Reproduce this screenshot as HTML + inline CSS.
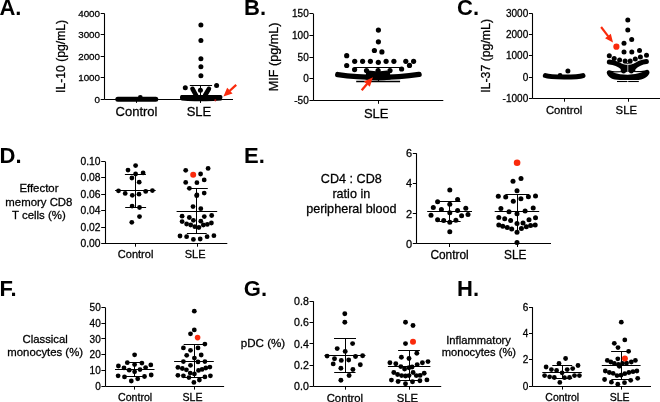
<!DOCTYPE html>
<html><head><meta charset="utf-8"><style>
html,body{margin:0;padding:0;background:#fff;}
body{width:660px;height:402px;overflow:hidden;}
svg{display:block;font-family:"Liberation Sans", sans-serif;will-change:transform;}
text{fill:#000;stroke:#000;stroke-width:0.28px;}
text[font-weight=bold]{stroke-width:0;}
</style></head><body>
<svg width="660" height="402" viewBox="0 0 660 402">
<rect width="660" height="402" fill="#fff"/>
<text x="-0.6" y="15.0" font-size="22" text-anchor="start" font-weight="bold" >A.</text>
<line x1="104.5" y1="13.4" x2="104.5" y2="99.4" stroke="#000" stroke-width="1.1" stroke-linecap="butt"/>
<line x1="100.7" y1="13.5" x2="104.5" y2="13.5" stroke="#000" stroke-width="1" stroke-linecap="butt"/>
<text transform="translate(100.00,16.91)" font-size="9.8" text-anchor="end" class="tk">4000</text>
<line x1="100.7" y1="34.5" x2="104.5" y2="34.5" stroke="#000" stroke-width="1" stroke-linecap="butt"/>
<text transform="translate(100.00,38.41)" font-size="9.8" text-anchor="end" class="tk">3000</text>
<line x1="100.7" y1="56.5" x2="104.5" y2="56.5" stroke="#000" stroke-width="1" stroke-linecap="butt"/>
<text transform="translate(100.00,59.81)" font-size="9.8" text-anchor="end" class="tk">2000</text>
<line x1="100.7" y1="77.5" x2="104.5" y2="77.5" stroke="#000" stroke-width="1" stroke-linecap="butt"/>
<text transform="translate(100.00,81.36)" font-size="9.8" text-anchor="end" class="tk">1000</text>
<line x1="100.7" y1="99.5" x2="104.5" y2="99.5" stroke="#000" stroke-width="1" stroke-linecap="butt"/>
<text transform="translate(100.00,102.91)" font-size="9.8" text-anchor="end" class="tk">0</text>
<line x1="104.5" y1="99.5" x2="233" y2="99.5" stroke="#000" stroke-width="1.1" stroke-linecap="butt"/>
<line x1="136.5" y1="99.4" x2="136.5" y2="102.7" stroke="#000" stroke-width="1" stroke-linecap="butt"/>
<line x1="200.5" y1="99.4" x2="200.5" y2="102.7" stroke="#000" stroke-width="1" stroke-linecap="butt"/>
<text transform="translate(65.0,56.4) rotate(-90)" x="0" y="0" font-size="12.2" text-anchor="middle" >IL-10 (pg/mL)</text>
<text x="136.5" y="116.4" font-size="13" text-anchor="middle" font-weight="normal" >Control</text>
<text x="199.0" y="116.4" font-size="13" text-anchor="middle" font-weight="normal" >SLE</text>
<line x1="117.8" y1="99.2" x2="155.8" y2="99.2" stroke="#000" stroke-width="5.0" stroke-linecap="round"/>
<circle cx="140.3" cy="97.5" r="2.4" fill="#000"/>
<line x1="136.5" y1="99" x2="136.5" y2="102.6" stroke="#000" stroke-width="1" stroke-linecap="butt"/>
<circle cx="200.9" cy="25" r="2.5" fill="#000"/>
<circle cx="200.9" cy="40.4" r="2.5" fill="#000"/>
<circle cx="200.9" cy="58.8" r="2.5" fill="#000"/>
<circle cx="200.9" cy="66.8" r="2.5" fill="#000"/>
<circle cx="200.9" cy="75.8" r="2.5" fill="#000"/>
<circle cx="185.3" cy="87.8" r="2.5" fill="#000"/>
<circle cx="216.6" cy="85.6" r="2.5" fill="#000"/>
<circle cx="200.4" cy="90.2" r="2.5" fill="#000"/>
<line x1="189.8" y1="85.5" x2="212.1" y2="85.5" stroke="#000" stroke-width="1" stroke-linecap="butt"/>
<line x1="200.5" y1="85.4" x2="200.5" y2="97" stroke="#000" stroke-width="1" stroke-linecap="butt"/>
<line x1="192.5" y1="88.8" x2="196.2" y2="95.5" stroke="#000" stroke-width="4.6" stroke-linecap="round"/>
<line x1="208.9" y1="88.8" x2="205.0" y2="95.5" stroke="#000" stroke-width="4.6" stroke-linecap="round"/>
<path d="M181.5,95.0 L220.5,95.0 Q222.8,95.3 222.4,97.8 L221.5,100.6 Q210,101.6 200.4,101.2 Q190,101.6 181.5,100.6 L180,98.4 Q179.8,95.3 181.5,95.0 Z" fill="#000"/>
<line x1="200.5" y1="99" x2="200.5" y2="102.8" stroke="#000" stroke-width="1" stroke-linecap="butt"/>
<circle cx="215.3" cy="100.3" r="1.1" fill="#b01818"/>
<line x1="236.2" y1="84.8" x2="229.50252296931353" y2="90.97423663766409" stroke="#fa2a0c" stroke-width="2.3" stroke-linecap="butt"/>
<path d="M223.40,96.60 L227.19,87.73 L232.55,93.54 Z" fill="#fa2a0c"/>
<text x="244.0" y="15.0" font-size="22" text-anchor="start" font-weight="bold" >B.</text>
<line x1="313.5" y1="13.6" x2="313.5" y2="100.5" stroke="#000" stroke-width="1.1" stroke-linecap="butt"/>
<line x1="309.4" y1="13.5" x2="313.2" y2="13.5" stroke="#000" stroke-width="1" stroke-linecap="butt"/>
<text transform="translate(308.70,17.18)" font-size="10" text-anchor="end" class="tk">150</text>
<line x1="309.4" y1="35.5" x2="313.2" y2="35.5" stroke="#000" stroke-width="1" stroke-linecap="butt"/>
<text transform="translate(308.70,38.88)" font-size="10" text-anchor="end" class="tk">100</text>
<line x1="309.4" y1="57.5" x2="313.2" y2="57.5" stroke="#000" stroke-width="1" stroke-linecap="butt"/>
<text transform="translate(308.70,60.58)" font-size="10" text-anchor="end" class="tk">50</text>
<line x1="309.4" y1="78.5" x2="313.2" y2="78.5" stroke="#000" stroke-width="1" stroke-linecap="butt"/>
<text transform="translate(308.70,82.38)" font-size="10" text-anchor="end" class="tk">0</text>
<line x1="309.4" y1="100.5" x2="313.2" y2="100.5" stroke="#000" stroke-width="1" stroke-linecap="butt"/>
<text transform="translate(308.70,104.08)" font-size="10" text-anchor="end" class="tk">-50</text>
<line x1="313.2" y1="100.5" x2="443.3" y2="100.5" stroke="#000" stroke-width="1.1" stroke-linecap="butt"/>
<line x1="378.5" y1="100.5" x2="378.5" y2="103.8" stroke="#000" stroke-width="1" stroke-linecap="butt"/>
<text transform="translate(277.8,56.9) rotate(-90)" x="0" y="0" font-size="12.6" text-anchor="middle" >MIF (pg/mL)</text>
<text x="376.2" y="117.8" font-size="13" text-anchor="middle" font-weight="normal" >SLE</text>
<circle cx="378.4" cy="30.1" r="2.6" fill="#000"/>
<circle cx="378.4" cy="41.8" r="2.6" fill="#000"/>
<circle cx="374.4" cy="50.5" r="2.6" fill="#000"/>
<circle cx="381.9" cy="51.9" r="2.6" fill="#000"/>
<circle cx="346.7" cy="55.7" r="2.6" fill="#000"/>
<circle cx="354.7" cy="61.3" r="2.6" fill="#000"/>
<circle cx="362.6" cy="61.3" r="2.6" fill="#000"/>
<circle cx="370.4" cy="61.3" r="2.6" fill="#000"/>
<circle cx="378.3" cy="62.3" r="2.6" fill="#000"/>
<circle cx="386.1" cy="61.3" r="2.6" fill="#000"/>
<circle cx="393.9" cy="61.3" r="2.6" fill="#000"/>
<circle cx="405.8" cy="61.3" r="2.6" fill="#000"/>
<circle cx="413.6" cy="61.3" r="2.6" fill="#000"/>
<circle cx="346.7" cy="65.5" r="2.6" fill="#000"/>
<circle cx="409.5" cy="65.4" r="2.6" fill="#000"/>
<circle cx="354.6" cy="69.6" r="2.6" fill="#000"/>
<circle cx="366.5" cy="70.6" r="2.6" fill="#000"/>
<circle cx="378.1" cy="70.6" r="2.6" fill="#000"/>
<circle cx="390.0" cy="70.6" r="2.6" fill="#000"/>
<circle cx="401.6" cy="69.0" r="2.6" fill="#000"/>
<line x1="354.7" y1="67.5" x2="401.8" y2="67.5" stroke="#000" stroke-width="1.1" stroke-linecap="butt"/>
<line x1="356.2" y1="81.5" x2="400.1" y2="81.5" stroke="#000" stroke-width="1.3" stroke-linecap="butt"/>
<line x1="378.5" y1="67.7" x2="378.5" y2="81.2" stroke="#000" stroke-width="1" stroke-linecap="butt"/>
<path d="M337.8,74.6 C350,76.4 365,77.3 378,77.3 C392,77.3 405,76.5 419.0,74.4" stroke="#000" stroke-width="5.5" fill="none" stroke-linecap="round" stroke-linejoin="round"/>
<path d="M366,73 L369,70.6 L376,71.2 L378,70.4 L380,71.2 L387,70.6 L390,73 L390.5,79.5 Q378,81.6 365.5,79.5 Z" fill="#000"/>
<line x1="361.7" y1="90.2" x2="367.2214314770318" y2="83.79119560701662" stroke="#fa2a0c" stroke-width="2.3" stroke-linecap="butt"/>
<path d="M372.90,77.20 L369.85,86.72 L363.94,81.62 Z" fill="#fa2a0c"/>
<text x="457.0" y="15.0" font-size="22" text-anchor="start" font-weight="bold" >C.</text>
<line x1="532.5" y1="13.6" x2="532.5" y2="98.4" stroke="#000" stroke-width="1.1" stroke-linecap="butt"/>
<line x1="528.9000000000001" y1="13.5" x2="532.7" y2="13.5" stroke="#000" stroke-width="1" stroke-linecap="butt"/>
<text transform="translate(528.20,17.18)" font-size="10" text-anchor="end" class="tk">3000</text>
<line x1="528.9000000000001" y1="34.5" x2="532.7" y2="34.5" stroke="#000" stroke-width="1" stroke-linecap="butt"/>
<text transform="translate(528.20,38.33)" font-size="10" text-anchor="end" class="tk">2000</text>
<line x1="528.9000000000001" y1="55.5" x2="532.7" y2="55.5" stroke="#000" stroke-width="1" stroke-linecap="butt"/>
<text transform="translate(528.20,59.48)" font-size="10" text-anchor="end" class="tk">1000</text>
<line x1="528.9000000000001" y1="77.5" x2="532.7" y2="77.5" stroke="#000" stroke-width="1" stroke-linecap="butt"/>
<text transform="translate(528.20,80.63)" font-size="10" text-anchor="end" class="tk">0</text>
<line x1="528.9000000000001" y1="98.5" x2="532.7" y2="98.5" stroke="#000" stroke-width="1" stroke-linecap="butt"/>
<text transform="translate(528.20,101.78)" font-size="10" text-anchor="end" class="tk">-1000</text>
<line x1="532.7" y1="98.5" x2="661" y2="98.5" stroke="#000" stroke-width="1.1" stroke-linecap="butt"/>
<line x1="564.5" y1="98.4" x2="564.5" y2="101.7" stroke="#000" stroke-width="1" stroke-linecap="butt"/>
<line x1="628.5" y1="98.4" x2="628.5" y2="101.7" stroke="#000" stroke-width="1" stroke-linecap="butt"/>
<text transform="translate(489.8,55.9) rotate(-90)" x="0" y="0" font-size="12.3" text-anchor="middle" >IL-37 (pg/mL)</text>
<text x="564.1" y="113.6" font-size="11.3" text-anchor="middle" font-weight="normal" >Control</text>
<text x="626.3" y="113.6" font-size="11.3" text-anchor="middle" font-weight="normal" >SLE</text>
<path d="M545.3,75.6 C550,77.5 578,77.5 583,75.6" stroke="#000" stroke-width="4.9" fill="none" stroke-linecap="round" stroke-linejoin="round"/>
<circle cx="560.1" cy="75.4" r="2.4" fill="#000"/>
<circle cx="567.9" cy="71.0" r="2.5" fill="#000"/>
<circle cx="627.8" cy="19.9" r="2.5" fill="#000"/>
<circle cx="627.8" cy="29.9" r="2.5" fill="#000"/>
<circle cx="631.7" cy="39.4" r="2.5" fill="#000"/>
<circle cx="624.0" cy="43.3" r="2.5" fill="#000"/>
<circle cx="624" cy="52" r="2.5" fill="#000"/>
<circle cx="631.8" cy="52" r="2.5" fill="#000"/>
<circle cx="639.5" cy="50.5" r="2.5" fill="#000"/>
<circle cx="609.3" cy="55.7" r="2.5" fill="#000"/>
<circle cx="646.5" cy="55.3" r="2.5" fill="#000"/>
<circle cx="614.2" cy="58.5" r="2.5" fill="#000"/>
<circle cx="619.6" cy="60" r="2.5" fill="#000"/>
<circle cx="625.1" cy="61.1" r="2.5" fill="#000"/>
<circle cx="630.2" cy="61.1" r="2.5" fill="#000"/>
<circle cx="635.3" cy="58.9" r="2.5" fill="#000"/>
<circle cx="640.4" cy="57.1" r="2.5" fill="#000"/>
<circle cx="616.4" cy="46.7" r="3.1" fill="#fa2a0c"/>
<line x1="601.1" y1="27.0" x2="608.2500451669471" y2="36.31308404098152" stroke="#fa2a0c" stroke-width="2.1" stroke-linecap="butt"/>
<path d="M613.00,42.50 L605.05,38.14 L610.84,33.69 Z" fill="#fa2a0c"/>
<path d="M609.3,62.0 Q617,62.6 623,67.6" stroke="#000" stroke-width="5" fill="none" stroke-linecap="round" stroke-linejoin="round"/>
<path d="M646.4,61.6 Q639,62.4 633.5,67.6" stroke="#000" stroke-width="5" fill="none" stroke-linecap="round" stroke-linejoin="round"/>
<path d="M620.7,63.2 L635.3,63.2 L635.3,71.5 L620.7,71.5 Z" fill="#000"/>
<path d="M609.5,70.2 Q612,71 615,71.2 L641,71 Q645,70.6 647,69.8 A2.6,2.6 0 0 1 649.4,73.2 C647.5,77 644,79.9 636,80 L620,80 C612,79.9 608.6,77.2 607.1,74 A2.5,2.5 0 0 1 609.5,70.2 Z" fill="#000"/>
<path d="M612.7,72.4 Q627.8,71.8 642.6,72.3 Q627.8,77.2 612.7,72.4 Z" fill="#fff"/>
<circle cx="623.6" cy="71.2" r="2.4" fill="#000"/>
<circle cx="631.3" cy="71.2" r="2.4" fill="#000"/>
<line x1="617.0" y1="81.5" x2="627.4" y2="81.5" stroke="#000" stroke-width="1.1" stroke-linecap="butt"/>
<line x1="628.2" y1="81.5" x2="638.8" y2="81.5" stroke="#000" stroke-width="1.1" stroke-linecap="butt"/>
<path d="M621.5,63.0 Q627.8,66.2 634,63.0" stroke="#fff" stroke-width="0.9" fill="none" stroke-linecap="round" stroke-linejoin="round"/>
<line x1="627.8" y1="64.5" x2="627.8" y2="74.3" stroke="#fff" stroke-width="0.7" stroke-linecap="butt"/>
<text x="-0.4" y="163.0" font-size="22" text-anchor="start" font-weight="bold" >D.</text>
<line x1="105.5" y1="161.4" x2="105.5" y2="243.4" stroke="#000" stroke-width="1.1" stroke-linecap="butt"/>
<line x1="101.2" y1="161.5" x2="105.0" y2="161.5" stroke="#000" stroke-width="1" stroke-linecap="butt"/>
<text transform="translate(100.50,165.09)" font-size="10.3" text-anchor="end" class="tk">0.10</text>
<line x1="101.2" y1="177.5" x2="105.0" y2="177.5" stroke="#000" stroke-width="1" stroke-linecap="butt"/>
<text transform="translate(100.50,181.49)" font-size="10.3" text-anchor="end" class="tk">0.08</text>
<line x1="101.2" y1="194.5" x2="105.0" y2="194.5" stroke="#000" stroke-width="1" stroke-linecap="butt"/>
<text transform="translate(100.50,197.89)" font-size="10.3" text-anchor="end" class="tk">0.06</text>
<line x1="101.2" y1="210.5" x2="105.0" y2="210.5" stroke="#000" stroke-width="1" stroke-linecap="butt"/>
<text transform="translate(100.50,214.29)" font-size="10.3" text-anchor="end" class="tk">0.04</text>
<line x1="101.2" y1="227.5" x2="105.0" y2="227.5" stroke="#000" stroke-width="1" stroke-linecap="butt"/>
<text transform="translate(100.50,230.69)" font-size="10.3" text-anchor="end" class="tk">0.02</text>
<line x1="101.2" y1="243.5" x2="105.0" y2="243.5" stroke="#000" stroke-width="1" stroke-linecap="butt"/>
<text transform="translate(100.50,247.09)" font-size="10.3" text-anchor="end" class="tk">0.00</text>
<line x1="105.0" y1="243.5" x2="227.3" y2="243.5" stroke="#000" stroke-width="1.1" stroke-linecap="butt"/>
<line x1="135.5" y1="243.4" x2="135.5" y2="246.70000000000002" stroke="#000" stroke-width="1" stroke-linecap="butt"/>
<line x1="197.5" y1="243.4" x2="197.5" y2="246.70000000000002" stroke="#000" stroke-width="1" stroke-linecap="butt"/>
<text x="38.9" y="191.8" font-size="11.4" text-anchor="middle" font-weight="normal" >Effector</text>
<text x="38.9" y="205.5" font-size="11.4" text-anchor="middle" font-weight="normal" >memory CD8</text>
<text x="38.9" y="219.2" font-size="11.4" text-anchor="middle" font-weight="normal" >T cells (%)</text>
<text x="135.6" y="257.9" font-size="11.0" text-anchor="middle" font-weight="normal" >Control</text>
<text x="195.1" y="257.9" font-size="11.0" text-anchor="middle" font-weight="normal" >SLE</text>
<line x1="115.1" y1="190.5" x2="155.7" y2="190.5" stroke="#000" stroke-width="1" stroke-linecap="butt"/>
<line x1="124.9" y1="174.5" x2="145.9" y2="174.5" stroke="#000" stroke-width="1" stroke-linecap="butt"/>
<line x1="125.2" y1="207.5" x2="146.1" y2="207.5" stroke="#000" stroke-width="1" stroke-linecap="butt"/>
<line x1="135.5" y1="174.3" x2="135.5" y2="207.4" stroke="#000" stroke-width="1" stroke-linecap="butt"/>
<circle cx="135.6" cy="165.6" r="2.4" fill="#000"/>
<circle cx="128" cy="170.1" r="2.4" fill="#000"/>
<circle cx="135.6" cy="174" r="2.4" fill="#000"/>
<circle cx="143.1" cy="172.9" r="2.4" fill="#000"/>
<circle cx="131.9" cy="178" r="2.4" fill="#000"/>
<circle cx="139.2" cy="182.2" r="2.4" fill="#000"/>
<circle cx="118.5" cy="190.8" r="2.4" fill="#000"/>
<circle cx="125.2" cy="193.4" r="2.4" fill="#000"/>
<circle cx="132.3" cy="195.3" r="2.4" fill="#000"/>
<circle cx="139" cy="194.2" r="2.4" fill="#000"/>
<circle cx="145.7" cy="191.4" r="2.4" fill="#000"/>
<circle cx="152.4" cy="190.6" r="2.4" fill="#000"/>
<circle cx="132.1" cy="206.1" r="2.4" fill="#000"/>
<circle cx="139.5" cy="207.5" r="2.4" fill="#000"/>
<circle cx="139.5" cy="216.6" r="2.4" fill="#000"/>
<circle cx="131.8" cy="222.3" r="2.4" fill="#000"/>
<line x1="186.8" y1="188.5" x2="207.8" y2="188.5" stroke="#000" stroke-width="1" stroke-linecap="butt"/>
<line x1="176.6" y1="211.5" x2="217.2" y2="211.5" stroke="#000" stroke-width="1" stroke-linecap="butt"/>
<line x1="186.9" y1="233.5" x2="206.7" y2="233.5" stroke="#000" stroke-width="1" stroke-linecap="butt"/>
<line x1="196.5" y1="188.3" x2="196.5" y2="233.3" stroke="#000" stroke-width="1" stroke-linecap="butt"/>
<circle cx="185.7" cy="170.3" r="2.4" fill="#000"/>
<circle cx="200.6" cy="174" r="2.4" fill="#000"/>
<circle cx="208.1" cy="168.4" r="2.4" fill="#000"/>
<circle cx="204.2" cy="179.9" r="2.4" fill="#000"/>
<circle cx="185.7" cy="182.4" r="2.4" fill="#000"/>
<circle cx="196.9" cy="182.7" r="2.4" fill="#000"/>
<circle cx="189.4" cy="188.3" r="2.4" fill="#000"/>
<circle cx="196.9" cy="194.9" r="2.4" fill="#000"/>
<circle cx="204.2" cy="193.1" r="2.4" fill="#000"/>
<circle cx="196.7" cy="195.7" r="2.4" fill="#000"/>
<circle cx="193" cy="206.6" r="2.4" fill="#000"/>
<circle cx="200.8" cy="208.7" r="2.4" fill="#000"/>
<circle cx="182.1" cy="216.2" r="2.4" fill="#000"/>
<circle cx="189.3" cy="217.5" r="2.4" fill="#000"/>
<circle cx="204.3" cy="216.6" r="2.4" fill="#000"/>
<circle cx="211.7" cy="215.5" r="2.4" fill="#000"/>
<circle cx="193.4" cy="220.3" r="2.4" fill="#000"/>
<circle cx="200.8" cy="221.2" r="2.4" fill="#000"/>
<circle cx="182.1" cy="221.6" r="2.4" fill="#000"/>
<circle cx="186.6" cy="224" r="2.4" fill="#000"/>
<circle cx="190.7" cy="225" r="2.4" fill="#000"/>
<circle cx="194.8" cy="226.7" r="2.4" fill="#000"/>
<circle cx="198.9" cy="227.5" r="2.4" fill="#000"/>
<circle cx="203.3" cy="225" r="2.4" fill="#000"/>
<circle cx="207.3" cy="224.4" r="2.4" fill="#000"/>
<circle cx="211.4" cy="223" r="2.4" fill="#000"/>
<circle cx="180" cy="236" r="2.4" fill="#000"/>
<circle cx="186.6" cy="236.7" r="2.4" fill="#000"/>
<circle cx="193.4" cy="239.4" r="2.4" fill="#000"/>
<circle cx="200.2" cy="239" r="2.4" fill="#000"/>
<circle cx="207.1" cy="236.7" r="2.4" fill="#000"/>
<circle cx="213.9" cy="235.7" r="2.4" fill="#000"/>
<circle cx="193.2" cy="174.8" r="3.0" fill="#fa2a0c"/>
<text x="244.0" y="163.1" font-size="22" text-anchor="start" font-weight="bold" >E.</text>
<line x1="416.5" y1="153.3" x2="416.5" y2="243.7" stroke="#000" stroke-width="1.1" stroke-linecap="butt"/>
<line x1="412.8" y1="153.5" x2="416.6" y2="153.5" stroke="#000" stroke-width="1" stroke-linecap="butt"/>
<text transform="translate(412.10,157.24)" font-size="11" text-anchor="end" class="tk">6</text>
<line x1="412.8" y1="183.5" x2="416.6" y2="183.5" stroke="#000" stroke-width="1" stroke-linecap="butt"/>
<text transform="translate(412.10,187.44)" font-size="11" text-anchor="end" class="tk">4</text>
<line x1="412.8" y1="213.5" x2="416.6" y2="213.5" stroke="#000" stroke-width="1" stroke-linecap="butt"/>
<text transform="translate(412.10,217.54)" font-size="11" text-anchor="end" class="tk">2</text>
<line x1="412.8" y1="243.5" x2="416.6" y2="243.5" stroke="#000" stroke-width="1" stroke-linecap="butt"/>
<text transform="translate(412.10,247.64)" font-size="11" text-anchor="end" class="tk">0</text>
<line x1="416.6" y1="243.5" x2="551" y2="243.5" stroke="#000" stroke-width="1.1" stroke-linecap="butt"/>
<line x1="449.5" y1="243.7" x2="449.5" y2="247.0" stroke="#000" stroke-width="1" stroke-linecap="butt"/>
<line x1="517.5" y1="243.7" x2="517.5" y2="247.0" stroke="#000" stroke-width="1" stroke-linecap="butt"/>
<text x="351.3" y="182.9" font-size="12.6" text-anchor="middle" font-weight="normal" >CD4 : CD8</text>
<text x="351.3" y="198.1" font-size="12.6" text-anchor="middle" font-weight="normal" >ratio in</text>
<text x="351.3" y="212.5" font-size="12.6" text-anchor="middle" font-weight="normal" >peripheral blood</text>
<text x="449.6" y="259.4" font-size="11.9" text-anchor="middle" font-weight="normal" >Control</text>
<text x="515.3" y="259.4" font-size="11.9" text-anchor="middle" font-weight="normal" >SLE</text>
<line x1="438.5" y1="201.5" x2="460.6" y2="201.5" stroke="#000" stroke-width="1" stroke-linecap="butt"/>
<line x1="427.2" y1="211.5" x2="472" y2="211.5" stroke="#000" stroke-width="1" stroke-linecap="butt"/>
<line x1="439.3" y1="221.5" x2="460.6" y2="221.5" stroke="#000" stroke-width="1" stroke-linecap="butt"/>
<line x1="449.5" y1="201.7" x2="449.5" y2="221.7" stroke="#000" stroke-width="1" stroke-linecap="butt"/>
<circle cx="449.8" cy="189.9" r="2.5" fill="#000"/>
<circle cx="457.6" cy="199.5" r="2.5" fill="#000"/>
<circle cx="437.6" cy="201.7" r="2.5" fill="#000"/>
<circle cx="449.8" cy="204.3" r="2.5" fill="#000"/>
<circle cx="433.3" cy="207.5" r="2.5" fill="#000"/>
<circle cx="441.4" cy="209.6" r="2.5" fill="#000"/>
<circle cx="457.6" cy="210.4" r="2.5" fill="#000"/>
<circle cx="465.8" cy="208.2" r="2.5" fill="#000"/>
<circle cx="449.8" cy="212.7" r="2.5" fill="#000"/>
<circle cx="431" cy="215.3" r="2.5" fill="#000"/>
<circle cx="461.6" cy="215.7" r="2.5" fill="#000"/>
<circle cx="468" cy="214.4" r="2.5" fill="#000"/>
<circle cx="437.6" cy="219.7" r="2.5" fill="#000"/>
<circle cx="443.7" cy="220.5" r="2.5" fill="#000"/>
<circle cx="455.9" cy="220.3" r="2.5" fill="#000"/>
<circle cx="449.8" cy="222.3" r="2.5" fill="#000"/>
<circle cx="449.8" cy="231.8" r="2.5" fill="#000"/>
<line x1="505.5" y1="194.5" x2="529" y2="194.5" stroke="#000" stroke-width="1" stroke-linecap="butt"/>
<line x1="494.7" y1="211.5" x2="539.2" y2="211.5" stroke="#000" stroke-width="1" stroke-linecap="butt"/>
<line x1="517.5" y1="194" x2="517.5" y2="232" stroke="#000" stroke-width="1" stroke-linecap="butt"/>
<circle cx="521" cy="178.4" r="2.5" fill="#000"/>
<circle cx="513" cy="181.3" r="2.5" fill="#000"/>
<circle cx="517" cy="190.7" r="2.5" fill="#000"/>
<circle cx="498.3" cy="196.3" r="2.5" fill="#000"/>
<circle cx="505.7" cy="197.1" r="2.5" fill="#000"/>
<circle cx="528.4" cy="196.7" r="2.5" fill="#000"/>
<circle cx="535.5" cy="196" r="2.5" fill="#000"/>
<circle cx="520.9" cy="198.8" r="2.5" fill="#000"/>
<circle cx="513.3" cy="201.2" r="2.5" fill="#000"/>
<circle cx="500.9" cy="208.5" r="2.5" fill="#000"/>
<circle cx="533.2" cy="208.1" r="2.5" fill="#000"/>
<circle cx="509" cy="211.7" r="2.5" fill="#000"/>
<circle cx="525.1" cy="210.9" r="2.5" fill="#000"/>
<circle cx="517" cy="213.8" r="2.5" fill="#000"/>
<circle cx="498.8" cy="217.4" r="2.5" fill="#000"/>
<circle cx="504.7" cy="218.7" r="2.5" fill="#000"/>
<circle cx="510.6" cy="220.6" r="2.5" fill="#000"/>
<circle cx="529" cy="219.8" r="2.5" fill="#000"/>
<circle cx="535.5" cy="217.8" r="2.5" fill="#000"/>
<circle cx="517" cy="223.5" r="2.5" fill="#000"/>
<circle cx="523" cy="223" r="2.5" fill="#000"/>
<circle cx="498.8" cy="225.1" r="2.5" fill="#000"/>
<circle cx="502.8" cy="226.3" r="2.5" fill="#000"/>
<circle cx="507.3" cy="227.4" r="2.5" fill="#000"/>
<circle cx="511.7" cy="229" r="2.5" fill="#000"/>
<circle cx="521.4" cy="228.4" r="2.5" fill="#000"/>
<circle cx="526.3" cy="226.7" r="2.5" fill="#000"/>
<circle cx="530.6" cy="225.5" r="2.5" fill="#000"/>
<circle cx="535.2" cy="225.1" r="2.5" fill="#000"/>
<circle cx="517" cy="232.2" r="2.5" fill="#000"/>
<circle cx="517" cy="242.6" r="2.5" fill="#000"/>
<circle cx="517.1" cy="162.8" r="3.3" fill="#fa2a0c"/>
<text x="-0.4" y="296.3" font-size="22" text-anchor="start" font-weight="bold" >F.</text>
<line x1="105.5" y1="307.4" x2="105.5" y2="386.2" stroke="#000" stroke-width="1.1" stroke-linecap="butt"/>
<line x1="101.4" y1="307.5" x2="105.2" y2="307.5" stroke="#000" stroke-width="1" stroke-linecap="butt"/>
<text transform="translate(100.70,310.98)" font-size="10" text-anchor="end" class="tk">50</text>
<line x1="101.4" y1="323.5" x2="105.2" y2="323.5" stroke="#000" stroke-width="1" stroke-linecap="butt"/>
<text transform="translate(100.70,326.74)" font-size="10" text-anchor="end" class="tk">40</text>
<line x1="101.4" y1="338.5" x2="105.2" y2="338.5" stroke="#000" stroke-width="1" stroke-linecap="butt"/>
<text transform="translate(100.70,342.50)" font-size="10" text-anchor="end" class="tk">30</text>
<line x1="101.4" y1="354.5" x2="105.2" y2="354.5" stroke="#000" stroke-width="1" stroke-linecap="butt"/>
<text transform="translate(100.70,358.26)" font-size="10" text-anchor="end" class="tk">20</text>
<line x1="101.4" y1="370.5" x2="105.2" y2="370.5" stroke="#000" stroke-width="1" stroke-linecap="butt"/>
<text transform="translate(100.70,374.02)" font-size="10" text-anchor="end" class="tk">10</text>
<line x1="101.4" y1="386.5" x2="105.2" y2="386.5" stroke="#000" stroke-width="1" stroke-linecap="butt"/>
<text transform="translate(100.70,389.78)" font-size="10" text-anchor="end" class="tk">0</text>
<line x1="105.2" y1="386.5" x2="224.1" y2="386.5" stroke="#000" stroke-width="1.1" stroke-linecap="butt"/>
<line x1="134.5" y1="386.3" x2="134.5" y2="389.6" stroke="#000" stroke-width="1" stroke-linecap="butt"/>
<line x1="194.5" y1="386.3" x2="194.5" y2="389.6" stroke="#000" stroke-width="1" stroke-linecap="butt"/>
<text x="45.2" y="343.4" font-size="11.3" text-anchor="middle" font-weight="normal" >Classical</text>
<text x="45.2" y="356.4" font-size="11.35" text-anchor="middle" font-weight="normal" >monocytes (%)</text>
<text x="135.1" y="400.7" font-size="10.6" text-anchor="middle" font-weight="normal" >Control</text>
<text x="192.5" y="400.7" font-size="10.6" text-anchor="middle" font-weight="normal" >SLE</text>
<line x1="126.8" y1="362.5" x2="142.4" y2="362.5" stroke="#000" stroke-width="1" stroke-linecap="butt"/>
<line x1="115" y1="369.5" x2="154.5" y2="369.5" stroke="#000" stroke-width="1" stroke-linecap="butt"/>
<line x1="124.5" y1="376.5" x2="144.7" y2="376.5" stroke="#000" stroke-width="1" stroke-linecap="butt"/>
<line x1="134.5" y1="362.7" x2="134.5" y2="376.9" stroke="#000" stroke-width="1" stroke-linecap="butt"/>
<circle cx="134.6" cy="354.8" r="2.4" fill="#000"/>
<circle cx="127.3" cy="362.7" r="2.4" fill="#000"/>
<circle cx="141.9" cy="363.1" r="2.4" fill="#000"/>
<circle cx="134.6" cy="364.6" r="2.4" fill="#000"/>
<circle cx="118.4" cy="366" r="2.4" fill="#000"/>
<circle cx="150.8" cy="364.9" r="2.4" fill="#000"/>
<circle cx="124" cy="367.9" r="2.4" fill="#000"/>
<circle cx="145.6" cy="367.6" r="2.4" fill="#000"/>
<circle cx="129.2" cy="370.2" r="2.4" fill="#000"/>
<circle cx="140" cy="369.6" r="2.4" fill="#000"/>
<circle cx="134.6" cy="371.8" r="2.4" fill="#000"/>
<circle cx="118.1" cy="375.8" r="2.4" fill="#000"/>
<circle cx="151.2" cy="375" r="2.4" fill="#000"/>
<circle cx="124.5" cy="376.9" r="2.4" fill="#000"/>
<circle cx="144.5" cy="376.5" r="2.4" fill="#000"/>
<circle cx="137.7" cy="378.8" r="2.4" fill="#000"/>
<circle cx="131.3" cy="381" r="2.4" fill="#000"/>
<line x1="183.7" y1="344.5" x2="204.9" y2="344.5" stroke="#000" stroke-width="1" stroke-linecap="butt"/>
<line x1="174.1" y1="361.5" x2="213.8" y2="361.5" stroke="#000" stroke-width="1" stroke-linecap="butt"/>
<line x1="183.5" y1="377.5" x2="205" y2="377.5" stroke="#000" stroke-width="1" stroke-linecap="butt"/>
<line x1="194.5" y1="344.3" x2="194.5" y2="377.2" stroke="#000" stroke-width="1" stroke-linecap="butt"/>
<circle cx="194.3" cy="311.2" r="2.4" fill="#000"/>
<circle cx="194.3" cy="329.9" r="2.4" fill="#000"/>
<circle cx="190.5" cy="333.8" r="2.4" fill="#000"/>
<circle cx="204.9" cy="344.1" r="2.4" fill="#000"/>
<circle cx="183.4" cy="347.9" r="2.4" fill="#000"/>
<circle cx="198" cy="347.9" r="2.4" fill="#000"/>
<circle cx="190.5" cy="350.3" r="2.4" fill="#000"/>
<circle cx="186.7" cy="355.3" r="2.4" fill="#000"/>
<circle cx="201.2" cy="355" r="2.4" fill="#000"/>
<circle cx="194.4" cy="358.1" r="2.4" fill="#000"/>
<circle cx="183.4" cy="361.6" r="2.4" fill="#000"/>
<circle cx="198" cy="361.9" r="2.4" fill="#000"/>
<circle cx="204.9" cy="361.6" r="2.4" fill="#000"/>
<circle cx="190.5" cy="365.3" r="2.4" fill="#000"/>
<circle cx="177.9" cy="367.4" r="2.4" fill="#000"/>
<circle cx="182.3" cy="368.5" r="2.4" fill="#000"/>
<circle cx="186.4" cy="369.8" r="2.4" fill="#000"/>
<circle cx="198.5" cy="370.4" r="2.4" fill="#000"/>
<circle cx="202.1" cy="369.4" r="2.4" fill="#000"/>
<circle cx="205.8" cy="368" r="2.4" fill="#000"/>
<circle cx="209.9" cy="367.1" r="2.4" fill="#000"/>
<circle cx="190.2" cy="373.1" r="2.4" fill="#000"/>
<circle cx="194.4" cy="373.9" r="2.4" fill="#000"/>
<circle cx="177.9" cy="375.3" r="2.4" fill="#000"/>
<circle cx="183.4" cy="375.8" r="2.4" fill="#000"/>
<circle cx="188.9" cy="377.6" r="2.4" fill="#000"/>
<circle cx="199.4" cy="380" r="2.4" fill="#000"/>
<circle cx="204.9" cy="376.9" r="2.4" fill="#000"/>
<circle cx="210.4" cy="375.8" r="2.4" fill="#000"/>
<circle cx="193.9" cy="382.4" r="2.4" fill="#000"/>
<circle cx="197.6" cy="337.6" r="2.8" fill="#fa2a0c"/>
<text x="243.8" y="296.2" font-size="22" text-anchor="start" font-weight="bold" >G.</text>
<line x1="313.5" y1="301.2" x2="313.5" y2="386.4" stroke="#000" stroke-width="1.1" stroke-linecap="butt"/>
<line x1="309.5" y1="301.5" x2="313.3" y2="301.5" stroke="#000" stroke-width="1" stroke-linecap="butt"/>
<text transform="translate(308.80,304.99)" font-size="10.6" text-anchor="end" class="tk">0.8</text>
<line x1="309.5" y1="322.5" x2="313.3" y2="322.5" stroke="#000" stroke-width="1" stroke-linecap="butt"/>
<text transform="translate(308.80,326.29)" font-size="10.6" text-anchor="end" class="tk">0.6</text>
<line x1="309.5" y1="343.5" x2="313.3" y2="343.5" stroke="#000" stroke-width="1" stroke-linecap="butt"/>
<text transform="translate(308.80,347.59)" font-size="10.6" text-anchor="end" class="tk">0.4</text>
<line x1="309.5" y1="365.5" x2="313.3" y2="365.5" stroke="#000" stroke-width="1" stroke-linecap="butt"/>
<text transform="translate(308.80,368.89)" font-size="10.6" text-anchor="end" class="tk">0.2</text>
<line x1="309.5" y1="386.5" x2="313.3" y2="386.5" stroke="#000" stroke-width="1" stroke-linecap="butt"/>
<text transform="translate(308.80,390.19)" font-size="10.6" text-anchor="end" class="tk">0.0</text>
<line x1="313.3" y1="386.5" x2="441.2" y2="386.5" stroke="#000" stroke-width="1.1" stroke-linecap="butt"/>
<line x1="345.5" y1="386.4" x2="345.5" y2="389.7" stroke="#000" stroke-width="1" stroke-linecap="butt"/>
<line x1="409.5" y1="386.4" x2="409.5" y2="389.7" stroke="#000" stroke-width="1" stroke-linecap="butt"/>
<text x="263.0" y="347.1" font-size="11.6" text-anchor="middle" font-weight="normal" >pDC (%)</text>
<text x="344.9" y="401.5" font-size="11.3" text-anchor="middle" font-weight="normal" >Control</text>
<text x="407.4" y="401.5" font-size="11.3" text-anchor="middle" font-weight="normal" >SLE</text>
<line x1="334" y1="338.5" x2="356" y2="338.5" stroke="#000" stroke-width="1" stroke-linecap="butt"/>
<line x1="324.5" y1="355.5" x2="365.5" y2="355.5" stroke="#000" stroke-width="1" stroke-linecap="butt"/>
<line x1="334.2" y1="372.5" x2="355.5" y2="372.5" stroke="#000" stroke-width="1" stroke-linecap="butt"/>
<line x1="345.5" y1="338.6" x2="345.5" y2="372.6" stroke="#000" stroke-width="1" stroke-linecap="butt"/>
<circle cx="344.8" cy="313.7" r="2.45" fill="#000"/>
<circle cx="344.8" cy="322.3" r="2.45" fill="#000"/>
<circle cx="352.6" cy="343.6" r="2.45" fill="#000"/>
<circle cx="337.2" cy="348.6" r="2.45" fill="#000"/>
<circle cx="345.2" cy="351.4" r="2.45" fill="#000"/>
<circle cx="327.1" cy="356.1" r="2.45" fill="#000"/>
<circle cx="355.5" cy="356.5" r="2.45" fill="#000"/>
<circle cx="362.6" cy="355.8" r="2.45" fill="#000"/>
<circle cx="334.5" cy="358.7" r="2.45" fill="#000"/>
<circle cx="341.3" cy="360.4" r="2.45" fill="#000"/>
<circle cx="348.7" cy="360" r="2.45" fill="#000"/>
<circle cx="333.2" cy="363.9" r="2.45" fill="#000"/>
<circle cx="360.3" cy="364.8" r="2.45" fill="#000"/>
<circle cx="340.9" cy="368.2" r="2.45" fill="#000"/>
<circle cx="352.9" cy="369.5" r="2.45" fill="#000"/>
<circle cx="349.1" cy="375.5" r="2.45" fill="#000"/>
<circle cx="340.9" cy="380.3" r="2.45" fill="#000"/>
<line x1="398.1" y1="350.5" x2="419.9" y2="350.5" stroke="#000" stroke-width="1" stroke-linecap="butt"/>
<line x1="387.9" y1="366.5" x2="430.4" y2="366.5" stroke="#000" stroke-width="1" stroke-linecap="butt"/>
<line x1="398.1" y1="380.5" x2="420" y2="380.5" stroke="#000" stroke-width="1" stroke-linecap="butt"/>
<line x1="409.5" y1="350.3" x2="409.5" y2="380.7" stroke="#000" stroke-width="1" stroke-linecap="butt"/>
<circle cx="405.5" cy="322.2" r="2.45" fill="#000"/>
<circle cx="413" cy="325.5" r="2.45" fill="#000"/>
<circle cx="405.5" cy="343.6" r="2.45" fill="#000"/>
<circle cx="416.8" cy="353.2" r="2.45" fill="#000"/>
<circle cx="401.4" cy="357.3" r="2.45" fill="#000"/>
<circle cx="409" cy="358.5" r="2.45" fill="#000"/>
<circle cx="389.9" cy="362.8" r="2.45" fill="#000"/>
<circle cx="395.8" cy="363.7" r="2.45" fill="#000"/>
<circle cx="417.2" cy="364.6" r="2.45" fill="#000"/>
<circle cx="422.4" cy="362.8" r="2.45" fill="#000"/>
<circle cx="428" cy="361.6" r="2.45" fill="#000"/>
<circle cx="400.8" cy="366.6" r="2.45" fill="#000"/>
<circle cx="404.6" cy="369" r="2.45" fill="#000"/>
<circle cx="409" cy="367.8" r="2.45" fill="#000"/>
<circle cx="412.1" cy="367" r="2.45" fill="#000"/>
<circle cx="393.8" cy="372.5" r="2.45" fill="#000"/>
<circle cx="397.6" cy="374.5" r="2.45" fill="#000"/>
<circle cx="401.6" cy="375.6" r="2.45" fill="#000"/>
<circle cx="405.5" cy="376" r="2.45" fill="#000"/>
<circle cx="409" cy="375.6" r="2.45" fill="#000"/>
<circle cx="413.1" cy="372.5" r="2.45" fill="#000"/>
<circle cx="416.3" cy="375.6" r="2.45" fill="#000"/>
<circle cx="420.1" cy="375.4" r="2.45" fill="#000"/>
<circle cx="424.2" cy="373.3" r="2.45" fill="#000"/>
<circle cx="391.4" cy="380.1" r="2.45" fill="#000"/>
<circle cx="398.1" cy="381.5" r="2.45" fill="#000"/>
<circle cx="412.5" cy="381.8" r="2.45" fill="#000"/>
<circle cx="419.9" cy="380.7" r="2.45" fill="#000"/>
<circle cx="426.9" cy="379.9" r="2.45" fill="#000"/>
<circle cx="405.5" cy="383.8" r="2.45" fill="#000"/>
<circle cx="413.0" cy="341.7" r="3.0" fill="#fa2a0c"/>
<text x="457.0" y="296.2" font-size="22" text-anchor="start" font-weight="bold" >H.</text>
<line x1="532.5" y1="307.2" x2="532.5" y2="386.3" stroke="#000" stroke-width="1.1" stroke-linecap="butt"/>
<line x1="529.0" y1="307.5" x2="532.8" y2="307.5" stroke="#000" stroke-width="1" stroke-linecap="butt"/>
<text transform="translate(528.30,310.78)" font-size="10" text-anchor="end" class="tk">6</text>
<line x1="529.0" y1="333.5" x2="532.8" y2="333.5" stroke="#000" stroke-width="1" stroke-linecap="butt"/>
<text transform="translate(528.30,337.18)" font-size="10" text-anchor="end" class="tk">4</text>
<line x1="529.0" y1="359.5" x2="532.8" y2="359.5" stroke="#000" stroke-width="1" stroke-linecap="butt"/>
<text transform="translate(528.30,363.48)" font-size="10" text-anchor="end" class="tk">2</text>
<line x1="529.0" y1="386.5" x2="532.8" y2="386.5" stroke="#000" stroke-width="1" stroke-linecap="butt"/>
<text transform="translate(528.30,389.88)" font-size="10" text-anchor="end" class="tk">0</text>
<line x1="532.8" y1="386.5" x2="651.0" y2="386.5" stroke="#000" stroke-width="1.1" stroke-linecap="butt"/>
<line x1="562.5" y1="386.3" x2="562.5" y2="389.6" stroke="#000" stroke-width="1" stroke-linecap="butt"/>
<line x1="621.5" y1="386.3" x2="621.5" y2="389.6" stroke="#000" stroke-width="1" stroke-linecap="butt"/>
<text x="478.6" y="343.6" font-size="11.2" text-anchor="middle" font-weight="normal" >Inflammatory</text>
<text x="478.9" y="355.9" font-size="11.15" text-anchor="middle" font-weight="normal" >monocytes (%)</text>
<text x="562.3" y="400.6" font-size="10.5" text-anchor="middle" font-weight="normal" >Control</text>
<text x="619.6" y="400.6" font-size="10.5" text-anchor="middle" font-weight="normal" >SLE</text>
<line x1="552.3" y1="365.5" x2="572.2" y2="365.5" stroke="#000" stroke-width="1" stroke-linecap="butt"/>
<line x1="542.3" y1="372.5" x2="581.8" y2="372.5" stroke="#000" stroke-width="1" stroke-linecap="butt"/>
<line x1="552.3" y1="378.5" x2="572.2" y2="378.5" stroke="#000" stroke-width="1" stroke-linecap="butt"/>
<line x1="562.5" y1="365.8" x2="562.5" y2="378.8" stroke="#000" stroke-width="1" stroke-linecap="butt"/>
<circle cx="565.6" cy="358.5" r="2.4" fill="#000"/>
<circle cx="559" cy="363.5" r="2.4" fill="#000"/>
<circle cx="546.1" cy="367" r="2.4" fill="#000"/>
<circle cx="578" cy="365.5" r="2.4" fill="#000"/>
<circle cx="551.4" cy="369.6" r="2.4" fill="#000"/>
<circle cx="556.6" cy="370.5" r="2.4" fill="#000"/>
<circle cx="567.2" cy="369.6" r="2.4" fill="#000"/>
<circle cx="572.7" cy="368.6" r="2.4" fill="#000"/>
<circle cx="562.1" cy="372.8" r="2.4" fill="#000"/>
<circle cx="544.6" cy="375.6" r="2.4" fill="#000"/>
<circle cx="549.6" cy="376.8" r="2.4" fill="#000"/>
<circle cx="554.3" cy="377.5" r="2.4" fill="#000"/>
<circle cx="564.5" cy="377.7" r="2.4" fill="#000"/>
<circle cx="569.5" cy="377.5" r="2.4" fill="#000"/>
<circle cx="574.5" cy="375.6" r="2.4" fill="#000"/>
<circle cx="579.4" cy="375.6" r="2.4" fill="#000"/>
<circle cx="559.8" cy="382.4" r="2.4" fill="#000"/>
<line x1="611.1" y1="351.5" x2="631" y2="351.5" stroke="#000" stroke-width="1" stroke-linecap="butt"/>
<line x1="601.8" y1="365.5" x2="640.6" y2="365.5" stroke="#000" stroke-width="1" stroke-linecap="butt"/>
<line x1="611.4" y1="379.5" x2="630.7" y2="379.5" stroke="#000" stroke-width="1" stroke-linecap="butt"/>
<line x1="621.5" y1="351.3" x2="621.5" y2="379.5" stroke="#000" stroke-width="1" stroke-linecap="butt"/>
<circle cx="621.3" cy="322.2" r="2.4" fill="#000"/>
<circle cx="624.8" cy="339.9" r="2.4" fill="#000"/>
<circle cx="614.3" cy="343.3" r="2.4" fill="#000"/>
<circle cx="618" cy="347.6" r="2.4" fill="#000"/>
<circle cx="628.6" cy="351.3" r="2.4" fill="#000"/>
<circle cx="617.8" cy="358.8" r="2.4" fill="#000"/>
<circle cx="607.3" cy="360.4" r="2.4" fill="#000"/>
<circle cx="610.8" cy="362" r="2.4" fill="#000"/>
<circle cx="614.3" cy="363.5" r="2.4" fill="#000"/>
<circle cx="618.4" cy="364.3" r="2.4" fill="#000"/>
<circle cx="622.5" cy="363.5" r="2.4" fill="#000"/>
<circle cx="626.6" cy="363.1" r="2.4" fill="#000"/>
<circle cx="631.3" cy="362" r="2.4" fill="#000"/>
<circle cx="635.4" cy="360.4" r="2.4" fill="#000"/>
<circle cx="619.3" cy="366.3" r="2.4" fill="#000"/>
<circle cx="605.3" cy="371" r="2.4" fill="#000"/>
<circle cx="609.3" cy="372.5" r="2.4" fill="#000"/>
<circle cx="613.1" cy="373.3" r="2.4" fill="#000"/>
<circle cx="617" cy="375.6" r="2.4" fill="#000"/>
<circle cx="621" cy="375.2" r="2.4" fill="#000"/>
<circle cx="624.8" cy="373.7" r="2.4" fill="#000"/>
<circle cx="628.9" cy="372.5" r="2.4" fill="#000"/>
<circle cx="633" cy="371.7" r="2.4" fill="#000"/>
<circle cx="636.9" cy="371" r="2.4" fill="#000"/>
<circle cx="604.6" cy="379.5" r="2.4" fill="#000"/>
<circle cx="611.4" cy="382.2" r="2.4" fill="#000"/>
<circle cx="624.5" cy="382.7" r="2.4" fill="#000"/>
<circle cx="630.7" cy="380.3" r="2.4" fill="#000"/>
<circle cx="637.7" cy="378.3" r="2.4" fill="#000"/>
<circle cx="617.8" cy="384.2" r="2.4" fill="#000"/>
<circle cx="624.9" cy="358.4" r="3.0" fill="#fa2a0c"/>
</svg>
</body></html>
